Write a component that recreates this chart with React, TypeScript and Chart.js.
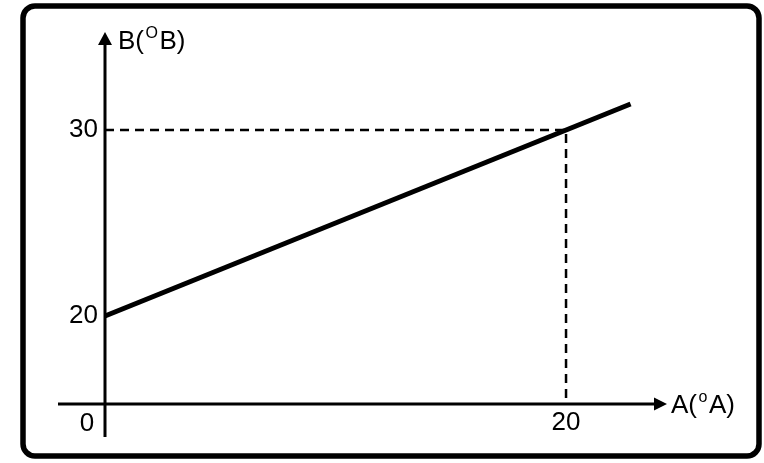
import React, { useEffect, useRef } from "react";
import { Chart, registerables } from "chart.js";

Chart.register(...registerables);

// ---- data ----
const X_MIN = 0;
const X_MAX = 24.38;
const Y_MIN = 15.27;
const Y_MAX = 35.27;
const X_TICKS = [20];
const Y_TICKS = [20, 30];
const LINE_X = [0, 22.8];
const LINE_Y = [20, 31.4];
const GUIDE_X = [0, 20, 20];
const GUIDE_Y = [30, 30, Y_MIN];
const X_TITLE = ["A(", "o", "A)"];
const Y_TITLE = ["B(", "O", "B)"];
const ORIGIN_LABEL = "0";

const FONT_FAMILY = '"Liberation Sans", Arial, sans-serif';

function drawTitle(ctx: CanvasRenderingContext2D, parts: string[], x: number, baseline: number) {
  let cx = x;
  parts.forEach((p, i) => {
    const sup = i === 1;
    ctx.font = (sup ? "16px " : "26px ") + FONT_FAMILY;
    ctx.textAlign = "left";
    ctx.textBaseline = "alphabetic";
    ctx.fillText(p, cx, sup ? baseline - 11 : baseline);
    cx += ctx.measureText(p).width + 1.5;
  });
}

const axesPlugin = {
  id: "customAxes",
  beforeDraw(chart: any) {
    const ctx = chart.ctx as CanvasRenderingContext2D;
    ctx.save();
    ctx.fillStyle = "#fff";
    ctx.fillRect(0, 0, chart.width, chart.height);
    ctx.strokeStyle = "#000";
    ctx.lineWidth = 5.5;
    ctx.beginPath();
    (ctx as any).roundRect(23, 6, 736, 450, 12);
    ctx.stroke();
    ctx.restore();
  },
  afterDatasetsDraw(chart: any) {
    const ctx = chart.ctx as CanvasRenderingContext2D;
    const xs = chart.scales.x;
    const ys = chart.scales.y;
    const ox = xs.getPixelForValue(X_MIN);
    const oy = ys.getPixelForValue(Y_MIN);
    const top = chart.chartArea.top;
    const right = chart.chartArea.right;
    ctx.save();
    ctx.strokeStyle = "#000";
    ctx.fillStyle = "#000";
    ctx.lineWidth = 3;
    ctx.beginPath();
    ctx.moveTo(ox, oy + 33);
    ctx.lineTo(ox, top + 10);
    ctx.stroke();
    ctx.beginPath();
    ctx.moveTo(ox - 47, oy);
    ctx.lineTo(right - 10, oy);
    ctx.stroke();
    // arrows
    ctx.beginPath();
    ctx.moveTo(ox, top);
    ctx.lineTo(ox - 7, top + 13);
    ctx.lineTo(ox + 7, top + 13);
    ctx.closePath();
    ctx.fill();
    ctx.beginPath();
    ctx.moveTo(right, oy);
    ctx.lineTo(right - 13, oy - 6.5);
    ctx.lineTo(right - 13, oy + 6.5);
    ctx.closePath();
    ctx.fill();
    // origin label
    ctx.font = "26px " + FONT_FAMILY;
    ctx.textAlign = "center";
    ctx.textBaseline = "alphabetic";
    ctx.fillText(ORIGIN_LABEL, ox - 18, oy + 27);
    // titles
    drawTitle(ctx, Y_TITLE, ox + 13, top + 17);
    drawTitle(ctx, X_TITLE, right + 4, oy + 9);
    ctx.restore();
  },
};

export default function App() {
  const ref = useRef<HTMLCanvasElement | null>(null);
  useEffect(() => {
    if (!ref.current) return;
    const chart = new Chart(ref.current, {
      type: "scatter",
      data: {
        datasets: [
          {
            data: GUIDE_X.map((x, i) => ({ x, y: GUIDE_Y[i] })),
            showLine: true,
            borderColor: "#000",
            borderWidth: 2.5,
            borderDash: [9, 6],
            pointRadius: 0,
            fill: false,
            clip: false as any,
          },
          {
            data: LINE_X.map((x, i) => ({ x, y: LINE_Y[i] })),
            showLine: true,
            borderColor: "#000",
            borderWidth: 5,
            pointRadius: 0,
            fill: false,
            clip: false as any,
          },
        ],
      },
      options: {
        animation: false,
        responsive: false,
        devicePixelRatio: 1,
        layout: { padding: { top: 32, right: 97, bottom: 0, left: 0 } },
        plugins: { legend: { display: false }, tooltip: { enabled: false } },
        scales: {
          x: {
            type: "linear",
            min: X_MIN,
            max: X_MAX,
            grid: { display: false, drawTicks: false },
            border: { display: false },
            afterBuildTicks: (s: any) => {
              s.ticks = X_TICKS.map((v) => ({ value: v }));
            },
            afterFit: (s: any) => {
              s.height = 59;
              s.paddingLeft = 0;
              s.paddingRight = 0;
            },
            ticks: {
              color: "#000",
              font: { family: FONT_FAMILY, size: 26 },
              padding: 3,
              maxRotation: 0,
              autoSkip: false,
              callback: (v: any) => String(v),
            },
          },
          y: {
            type: "linear",
            min: Y_MIN,
            max: Y_MAX,
            grid: { display: false, drawTicks: false },
            border: { display: false },
            afterBuildTicks: (s: any) => {
              s.ticks = Y_TICKS.map((v) => ({ value: v }));
            },
            afterFit: (s: any) => {
              s.width = 105;
              s.paddingTop = 0;
              s.paddingBottom = 0;
            },
            ticks: {
              color: "#000",
              font: { family: FONT_FAMILY, size: 26 },
              padding: 7,
              autoSkip: false,
              callback: (v: any) => String(v),
            },
          },
        },
      },
      plugins: [axesPlugin],
    });
    return () => chart.destroy();
  }, []);
  return (
    <div style={{ position: "absolute", left: 0, top: 0, width: 764, height: 463 }}>
      <canvas ref={ref} width={764} height={463} style={{ display: "block" }} />
    </div>
  );
}
